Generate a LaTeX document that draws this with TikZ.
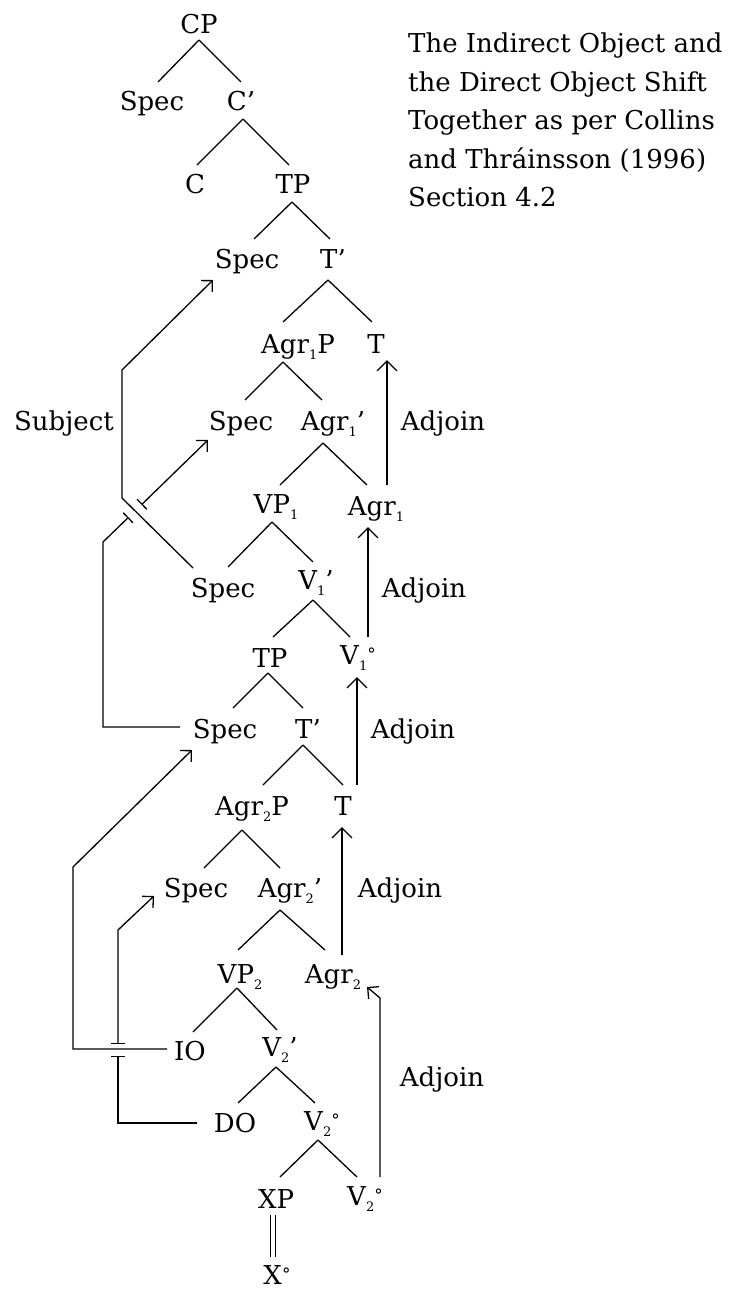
\documentclass[tikz,border=0pt]{standalone}
\usepackage{fontspec}
\setmainfont{DejaVu Serif}
\usetikzlibrary{arrows.meta}
\newcommand\lsub[1]{\raisebox{-6pt}{\fontsize{13}{13}\selectfont #1}}
\newcommand\dg{\raisebox{4pt}{\fontsize{17}{17}\selectfont °}}
\newcommand\br[6]{\draw[brl] ([shift={(#2,#3)}]#1.base) -- ([shift={(#5,#6)}]#4.base);}
\begin{document}
\begin{tikzpicture}[x=1pt,y=-1pt,
  every node/.style={font=\fontsize{26}{38.5}\selectfont, inner sep=0pt},
  lbl/.style={anchor=base},
  brl/.style={line width=1.3pt},
  mv/.style={line width=1.3pt, line join=miter},
  vadj/.style={-{Straight Barb[length=10pt,width=20pt]}},
  dadj/.style={-{Straight Barb[length=8pt,width=16pt]}},
  jmp/.style={-{Bar[width=14pt]}},
  jmpstart/.style={{Bar[width=14pt]}-{Straight Barb[length=8pt,width=16pt]}},
  ]
\path[use as bounding box, fill=white] (0,0) rectangle (744,1291);

% title
\node[anchor=north west, align=left] (title) at (408,33)
  {The Indirect Object and\\the Direct Object Shift\\Together as per Collins\\and Thráinsson (1996)\\Section 4.2};

% tree nodes
\node[lbl] (cp) at (199,33) {CP};
\node[lbl] (spec1) at (152,110) {Spec};
\node[lbl] (cbar) at (241,110) {C’};
\node[lbl] (c) at (195,193) {C};
\node[lbl] (tp1) at (293,193) {TP};
\node[lbl] (spec2) at (247,268) {Spec};
\node[lbl] (tbar1) at (333,268) {T’};
\node[lbl] (agr1p) at (298,353) {Agr\lsub{1}P};
\node[lbl] (t1) at (376,353) {T};
\node[lbl] (spec3) at (241,430) {Spec};
\node[lbl] (agr1bar) at (333,430) {Agr\lsub{1}’};
\node[lbl] (vp1) at (276,513) {VP\lsub{1}};
\node[lbl] (agr1) at (376,515) {Agr\lsub{1}};
\node[lbl] (spec4) at (223,597) {Spec};
\node[lbl] (v1bar) at (316,589) {V\lsub{1}’};
\node[lbl] (tp2) at (270,667) {TP};
\node[lbl] (v1o) at (358,664) {V\lsub{1}\dg};
\node[lbl] (spec5) at (225,738) {Spec};
\node[lbl] (tbar2) at (308,738) {T’};
\node[lbl] (agr2p) at (252,815) {Agr\lsub{2}P};
\node[lbl] (t2) at (343,815) {T};
\node[lbl] (spec6) at (196,897) {Spec};
\node[lbl] (agr2bar) at (290,897) {Agr\lsub{2}’};
\node[lbl] (vp2) at (240,983) {VP\lsub{2}};
\node[lbl] (agr2) at (333,983) {Agr\lsub{2}};
\node[lbl] (io) at (190,1060) {IO};
\node[lbl] (v2bar) at (280,1056) {V\lsub{2}’};
\node[lbl] (do) at (235,1132) {DO};
\node[lbl] (v2o) at (322,1130) {V\lsub{2}\dg};
\node[lbl] (xp) at (276,1208) {XP};
\node[lbl] (v2o2) at (365,1205) {V\lsub{2}\dg};
\node[lbl] (xo) at (277,1284) {X\dg};

% labels
\node[lbl] (subj) at (64,430) {Subject};
\node[lbl] (adj1) at (443,430) {Adjoin};
\node[lbl] (adj2) at (424,597) {Adjoin};
\node[lbl] (adj3) at (413,738) {Adjoin};
\node[lbl] (adj4) at (400,897) {Adjoin};
\node[lbl] (adj5) at (442,1086) {Adjoin};

% branches
\br{cp}{0}{7}{spec1}{6}{-28}
\br{cp}{0}{7}{cbar}{0}{-28}
\br{cbar}{2}{9}{c}{2}{-28}
\br{cbar}{2}{9}{tp1}{-4}{-28}
\br{tp1}{-1}{9}{spec2}{7}{-29}
\br{tp1}{-1}{9}{tbar1}{-3}{-29}
\br{tbar1}{-5}{12}{agr1p}{-15}{-31}
\br{tbar1}{-5}{12}{t1}{-4}{-31}
\br{agr1p}{-15}{9}{spec3}{4}{-30}
\br{agr1p}{-15}{9}{agr1bar}{-11}{-30}
\br{agr1bar}{-10}{13}{vp1}{4}{-28}
\br{agr1bar}{-10}{13}{agr1}{-9}{-30}
\br{vp1}{-4}{9}{spec4}{5}{-30}
\br{vp1}{-4}{9}{v1bar}{-3}{-27}
\br{v1bar}{-3}{11}{tp2}{3}{-30}
\br{v1bar}{-3}{11}{v1o}{-8}{-27}
\br{tp2}{-2}{6}{spec5}{8}{-30}
\br{tp2}{-2}{6}{tbar2}{-5}{-30}
\br{tbar2}{-5}{7}{agr2p}{11}{-30}
\br{tbar2}{-5}{7}{t2}{0}{-30}
\br{agr2p}{-10}{15}{spec6}{8}{-29}
\br{agr2p}{-10}{15}{agr2bar}{-10}{-29}
\br{agr2bar}{-10}{13}{vp2}{-2}{-33}
\br{agr2bar}{-10}{13}{agr2}{-8}{-33}
\br{vp2}{-3}{5}{io}{3}{-28}
\br{vp2}{-3}{5}{v2bar}{-3}{-26}
\br{v2bar}{-4}{11}{do}{3}{-29}
\br{v2bar}{-4}{11}{v2o}{-7}{-27}
\br{v2o}{-4}{10}{xp}{4}{-31}
\br{v2o}{-4}{10}{v2o2}{-8}{-28}
\draw[brl, double distance=4.5pt, line width=1.2pt] ([shift={(-3,7)}]xp.base) -- ([shift={(-4,-27)}]xo.base);

% head movement (Adjoin)
\draw[mv, vadj] ([shift={(11,-30)}]agr1.base) -- ([shift={(11,7)}]t1.base);
\draw[mv, vadj] ([shift={(10,-27)}]v1o.base) -- ([shift={(-8,12)}]agr1.base);
\draw[mv, vadj] ([shift={(14,-30)}]t2.base) -- ([shift={(-1,13)}]v1o.base);
\draw[mv, vadj] ([shift={(9,-28)}]agr2.base) -- ([shift={(-1,12)}]t2.base);
\draw[mv, dadj] ([shift={(15,-28)}]v2o2.base) -- ++(0,-179) -- ([shift={(34,4)}]agr2.base);

% subject movement
\draw[mv, dadj] ([shift={(-30,-29)}]spec4.base) -- ++(-71,-70) -- ++(0,-128) -- ([shift={(-34,12)}]spec2.base);

% Spec TP -> Spec Agr1P (jumps over subject path)
\draw[mv, jmp] ([shift={(-45,-11)}]spec5.base) -- ++(-77,0) -- ++(0,-185) -- ++(25.5,-24.7) coordinate (gapB);
\draw[mv, jmpstart] ([shift={(13,-12.6)}]gapB) -- ([shift={(-33,10)}]spec3.base);

% IO -> Spec TP
\draw[mv, dadj] ([shift={(-23,-11)}]io.base) -- ++(-94,0) -- ++(0,-182) -- ([shift={(-33,12)}]spec5.base);

% DO -> Spec Agr2P (jumps over IO path)
\draw[mv, jmp] ([shift={(-38,-9)}]do.base) -- ++(-79,0) -- ++(0,-67) coordinate (gapD);
\draw[mv, jmpstart] ([shift={(0,-12)}]gapD) -- ++(0,-114) -- ([shift={(-42,-1)}]spec6.base);
\end{tikzpicture}
\end{document}
